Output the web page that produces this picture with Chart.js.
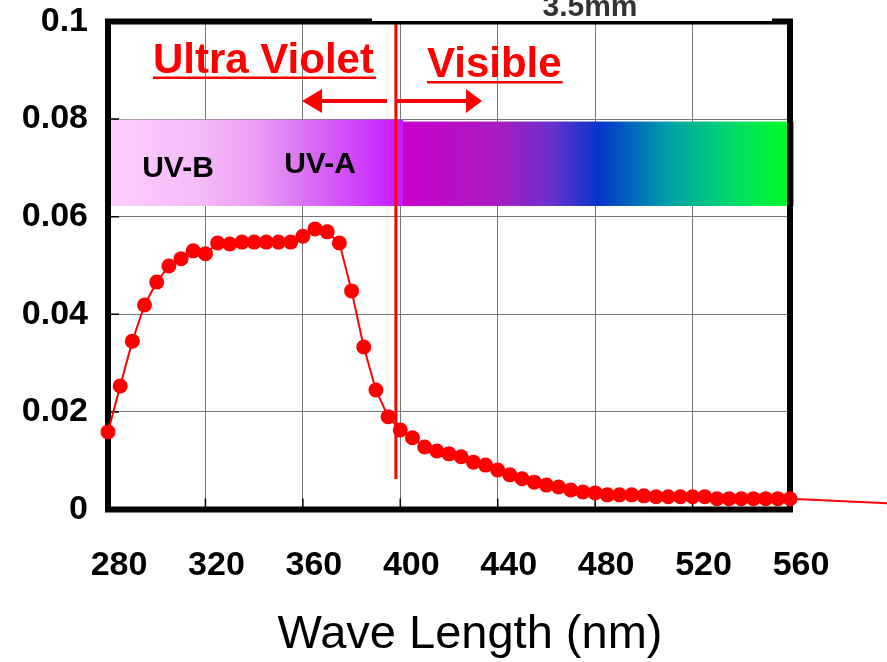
<!DOCTYPE html>
<html>
<head>
<meta charset="utf-8">
<script src="https://cdn.jsdelivr.net/npm/chart.js@4.4.1/dist/chart.umd.min.js"></script>
<style>
html, body { margin: 0; padding: 0; background: #fff; }
#wrap { width: 887px; height: 662px; }
</style>
</head>
<body>
<div id="wrap"><canvas id="chart" width="887" height="662"></canvas></div>
<script>
// 波長 (nm)
const wavelengths = [
  280, 285, 290, 295, 300, 305, 310, 315, 320, 325, 330, 335, 340, 345, 350, 355,
  360, 365, 370, 375, 380, 385, 390, 395, 400, 405, 410, 415, 420, 425, 430, 435,
  440, 445, 450, 455, 460, 465, 470, 475, 480, 485, 490, 495, 500, 505, 510, 515,
  520, 525, 530, 535, 540, 545, 550, 555, 560
];
// 測定値
const absorbance = [
  0.0159, 0.0253, 0.0345, 0.0419, 0.0466, 0.0499, 0.0514, 0.0530, 0.0524, 0.0546, 0.0544, 0.0548, 0.0548, 0.0548, 0.0548, 0.0548,
  0.0560, 0.0575, 0.0569, 0.0546, 0.0448, 0.0333, 0.0245, 0.0190, 0.0163, 0.0147, 0.0128, 0.0120, 0.0114, 0.0108, 0.0097, 0.0091,
  0.0081, 0.0071, 0.0063, 0.0056, 0.0050, 0.0046, 0.0040, 0.0036, 0.0034, 0.0030, 0.0030, 0.0030, 0.0028, 0.0026, 0.0026, 0.0026,
  0.0026, 0.0026, 0.0022, 0.0022, 0.0022, 0.0022, 0.0022, 0.0022, 0.0022
];
// 560nm より先 (枠の外まで線だけ伸びている)
const tailX = [560, 600];
const tailY = [0.0022, 0.0013];

const xTicks = [280, 320, 360, 400, 440, 480, 520, 560];
const yTicks = [0, 0.02, 0.04, 0.06, 0.08, 0.1];
const yTickLabels = ['0', '0.02', '0.04', '0.06', '0.08', '0.1'];

const xTitle = 'Wave Length (nm)';
const uvTitle = 'Ultra Violet';
const visTitle = 'Visible';
const uvbLabel = 'UV-B';
const uvaLabel = 'UV-A';
const sizeLabel = '3.5mm';

const FONT = "'Liberation Sans', Arial, sans-serif";
const RED = '#ff0000';

// 帯・矢印・文字・枠
const decor = {
  id: 'decor',
  beforeDatasetsDraw(chart) {
    const { ctx, chartArea: a, scales: { x, y } } = chart;
    ctx.save();

    // スペクトル帯
    const bTop = y.getPixelForValue(0.0799), bBot = y.getPixelForValue(0.0622);
    const vTop = y.getPixelForValue(0.0795);
    const b0 = a.left + 3, b1 = 403, b2 = a.right + 4;
    let g = ctx.createLinearGradient(b0, 0, b1, 0);
    g.addColorStop(0, '#ffccff');
    g.addColorStop(0.3, '#f6bbf9');
    g.addColorStop(0.5, '#eb9cf4');
    g.addColorStop(0.64, '#dc78f2');
    g.addColorStop(0.8, '#d24ef8');
    g.addColorStop(0.95, '#c824ff');
    g.addColorStop(1, '#c818ff');
    ctx.fillStyle = g;
    ctx.fillRect(b0, bTop, b1 - b0, bBot - bTop);
    g = ctx.createLinearGradient(b1, 0, b2, 0);
    g.addColorStop(0, '#cc00cc');
    g.addColorStop(0.24, '#a81cc0');
    g.addColorStop(0.38, '#6a30cc');
    g.addColorStop(0.5, '#0434cc');
    g.addColorStop(0.68, '#00a0a8');
    g.addColorStop(0.85, '#00dc68');
    g.addColorStop(1, '#00ff1e');
    ctx.fillStyle = g;
    ctx.fillRect(b1, vTop, b2 - b1, bBot - vTop);

    ctx.fillStyle = '#000';
    ctx.font = 'bold 30px ' + FONT;
    ctx.textAlign = 'center';
    ctx.textBaseline = 'alphabetic';
    ctx.fillText(uvbLabel, 178, 177);
    ctx.fillText(uvaLabel, 320, 173);

    // 境界線
    const bx = x.getPixelForValue(398.2);
    ctx.strokeStyle = RED;
    ctx.lineWidth = 3;
    ctx.beginPath();
    ctx.moveTo(bx, a.top);
    ctx.lineTo(bx, 479);
    ctx.stroke();

    // 矢印
    const ay = 101;
    ctx.lineWidth = 4;
    ctx.beginPath();
    ctx.moveTo(387, ay); ctx.lineTo(318, ay);
    ctx.moveTo(397, ay); ctx.lineTo(468, ay);
    ctx.stroke();
    ctx.fillStyle = RED;
    ctx.beginPath();
    ctx.moveTo(302, ay); ctx.lineTo(322, ay - 12); ctx.lineTo(322, ay + 12); ctx.closePath();
    ctx.moveTo(482, ay); ctx.lineTo(466, ay - 12); ctx.lineTo(466, ay + 12); ctx.closePath();
    ctx.fill();

    // Ultra Violet / Visible
    ctx.font = 'bold 42px ' + FONT;
    ctx.textAlign = 'left';
    ctx.fillText(uvTitle, 153, 73);
    ctx.fillText(visTitle, 427, 77);
    ctx.fillRect(153, 76.5, ctx.measureText(uvTitle).width + 2, 2.5);
    ctx.fillRect(427, 81, ctx.measureText(visTitle).width + 1, 2.5);

    // 内側の目盛り
    ctx.strokeStyle = '#000';
    ctx.lineWidth = 1.5;
    ctx.beginPath();
    yTicks.forEach(v => {
      const py = y.getPixelForValue(v);
      ctx.moveTo(a.left, py); ctx.lineTo(a.left + 11, py);
    });
    xTicks.forEach(v => {
      const px = x.getPixelForValue(v);
      ctx.moveTo(px, a.bottom); ctx.lineTo(px, a.bottom - 11);
    });
    ctx.stroke();

    // 枠
    ctx.lineWidth = 6;
    ctx.strokeRect(a.left, a.top, a.right - a.left, a.bottom - a.top);

    // 上の白い箱
    ctx.fillStyle = '#fff';
    ctx.fillRect(372, 0, 400, 21);
    ctx.fillStyle = '#333';
    ctx.font = 'bold 30px ' + FONT;
    ctx.textAlign = 'center';
    ctx.fillText(sizeLabel, 590, 16);

    ctx.restore();
  },
  afterDraw(chart) {
    const { ctx } = chart;
    ctx.save();
    ctx.fillStyle = '#000';
    ctx.font = '47px ' + FONT;
    ctx.textAlign = 'center';
    ctx.textBaseline = 'alphabetic';
    ctx.fillText(xTitle, 470, 648);
    ctx.restore();
  }
};

new Chart(document.getElementById('chart'), {
  type: 'line',
  data: {
    datasets: [
      {
        data: wavelengths.map((w, i) => ({ x: w, y: absorbance[i] })),
        borderColor: RED,
        borderWidth: 2,
        backgroundColor: RED,
        pointBackgroundColor: RED,
        pointBorderWidth: 0,
        pointRadius: 7.5,
        tension: 0,
        clip: false
      },
      {
        data: tailX.map((w, i) => ({ x: w, y: tailY[i] })),
        borderColor: RED,
        borderWidth: 2,
        pointRadius: 0,
        tension: 0,
        clip: false
      }
    ]
  },
  options: {
    responsive: false,
    animation: false,
    layout: { padding: { top: 21.5, right: 97, left: 0, bottom: 0 } },
    plugins: { legend: { display: false }, tooltip: { enabled: false } },
    scales: {
      x: {
        type: 'linear',
        min: 280,
        max: 560,
        afterBuildTicks: s => { s.ticks = xTicks.map(v => ({ value: v })); },
        afterFit: s => { s.height = 152.5; s.paddingLeft = 0; s.paddingRight = 0; },
        grid: { color: '#777', lineWidth: 1, drawTicks: false },
        border: { display: false },
        ticks: {
          autoSkip: false,
          maxRotation: 0,
          padding: 36,
          labelOffset: 11,
          color: '#000',
          font: { family: FONT, size: 34, weight: 'bold' }
        }
      },
      y: {
        min: 0,
        max: 0.1,
        afterBuildTicks: s => { s.ticks = yTicks.map(v => ({ value: v })); },
        afterFit: s => { s.width = 108; s.paddingTop = 0; s.paddingBottom = 0; },
        grid: { color: '#777', lineWidth: 1, drawTicks: false },
        border: { display: false },
        ticks: {
          padding: 20,
          color: '#000',
          font: { family: FONT, size: 34, weight: 'bold' },
          callback: (v, i) => yTickLabels[i]
        }
      }
    }
  },
  plugins: [decor]
});
</script>
</body>
</html>
